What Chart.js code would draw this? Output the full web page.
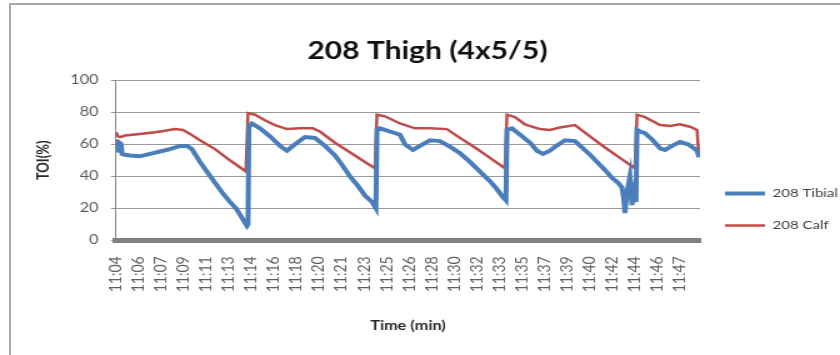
<!DOCTYPE html>
<html>
<head>
<meta charset="utf-8">
<script src="https://cdn.jsdelivr.net/npm/chart.js@4/dist/chart.umd.min.js"></script>
<style>
  html, body { margin: 0; padding: 0; background: #fff; overflow: hidden; }
  #frame { position: absolute; left: 9px; top: 3px; width: 840px; height: 360px;
           border-left: 2px solid #a8a8a8; border-top: 2px solid #a8a8a8; }
  /* the chart is laid out on a narrower canvas and widened horizontally */
  #stage { position: absolute; left: 0; top: 0; width: 672px; height: 355px;
           transform: scaleX(1.25); transform-origin: 0 0; }
</style>
</head>
<body>
<div id="frame"></div>
<div id="stage"><canvas id="chart" width="672" height="355"></canvas></div>
<script>
// Elapsed minutes since 11:04 and tissue oxygenation index (%) per sensor
const tibialMinutes = [
  0.00, 0.08, 0.15, 0.23, 0.31, 0.38, 0.46, 0.69, 1.07, 1.83, 2.60, 3.36, 4.12, 4.89, 5.42, 5.80,
  6.41, 7.02, 7.56, 8.09, 8.70, 9.16, 9.47, 9.77, 10.00, 10.08,
  10.15, 10.38, 10.99, 11.76, 12.52, 13.05, 13.67, 14.43, 15.19, 15.96, 16.72, 17.10, 17.86, 18.48,
  19.01, 19.55, 19.85,
  19.93, 20.16, 20.92, 21.69, 22.07, 22.68, 23.21, 23.98, 24.74, 25.50, 26.27, 27.03, 27.79, 28.56,
  29.09, 29.55, 29.78,
  29.86, 30.24, 30.85, 31.62, 32.15, 32.61, 33.14, 33.53, 34.29, 35.05, 35.59, 36.20, 36.73, 37.34,
  37.88, 38.34, 38.64, 38.79, 38.87, 39.02, 39.25, 39.40, 39.56, 39.71,
  39.79, 40.02, 40.40, 40.94, 41.55, 41.93, 42.46, 43.07, 43.68, 44.06, 44.37, 44.52
];
const tibialTOI = [
  58, 63, 55, 62, 56, 61, 54, 53.5, 53, 52.5, 54, 55.5, 57, 59, 59, 57,
  49, 42, 36, 30, 24, 20, 16, 12, 9, 10,
  71, 73, 70, 65, 59, 56, 60, 64.5, 64, 59, 53, 49, 40, 34,
  28, 24, 20,
  69, 70, 68, 66, 60, 56.5, 59, 62.5, 62, 58.5, 54.5, 49, 43, 37,
  32, 27, 25,
  69, 70, 66, 61, 56, 54, 56, 58.5, 62.5, 62, 58, 53.5, 49, 44,
  39, 36, 33, 25, 17, 30, 40, 22, 30, 24,
  69, 68, 67, 63, 57.5, 56.5, 59, 61.5, 60, 58, 56, 52
];

const calfMinutes = [
  0.00, 0.15, 0.31, 0.69, 1.83, 2.98, 3.74, 4.50, 5.12, 5.65, 6.41, 7.56, 8.70, 9.92,
  10.08, 10.61, 11.37, 12.14, 13.05, 14.05, 15.04, 15.57, 16.72, 17.86, 19.01, 19.78,
  19.93, 20.54, 21.69, 22.83, 23.98, 25.27, 26.27, 27.41, 28.56, 29.70,
  29.86, 30.46, 31.23, 32.38, 33.14, 33.90, 35.05, 36.20, 37.34, 38.49, 39.63,
  39.79, 40.40, 41.55, 42.31, 43.07, 43.83, 44.37, 44.52
];
const calfTOI = [
  67.5, 65, 64.5, 65.5, 66.5, 67.5, 68.5, 69.5, 69, 66.5, 62.5, 57, 50, 43,
  79.5, 78.5, 75, 72, 69.5, 70, 70, 68, 61, 55, 49, 45,
  78.5, 77.5, 73, 70, 70, 69.5, 64, 58, 51.5, 45,
  78.5, 77, 72.5, 69.5, 69, 70.5, 72, 65, 58, 51.5, 45,
  78.5, 77, 72, 71.5, 72.5, 71, 69, 52
];

// Category labels shown along the time axis, evenly spaced
const tickLabels = [
  '11:04', '11:06', '11:07', '11:09', '11:11', '11:13', '11:14', '11:16', '11:18',
  '11:20', '11:21', '11:23', '11:25', '11:26', '11:28', '11:30', '11:32', '11:33',
  '11:35', '11:37', '11:39', '11:40', '11:42', '11:44', '11:46', '11:47'
];
const tickStep = 1.72;     // minutes between labelled ticks
const timeSpan = 44.6;     // minutes covered by the axis

const FONT = 'Lato, "Open Sans", "Liberation Sans", sans-serif';

function points(xs, ys) {
  return xs.map((x, i) => ({ x: x, y: ys[i] }));
}

// moves the legend block down so it sits beside the lower half of the plot
const legendOffset = {
  id: 'legendOffset',
  afterLayout(chart) {
    const lg = chart.legend;
    if (lg) { lg.top += 32; lg.bottom += 32; }
  }
};

new Chart(document.getElementById('chart'), {
  type: 'line',
  data: {
    datasets: [
      {
        label: '208 Tibial',
        data: points(tibialMinutes, tibialTOI),
        borderColor: '#4a7ebb',
        backgroundColor: '#4a7ebb',
        borderWidth: 4,
        pointRadius: 0,
        tension: 0
      },
      {
        label: '208 Calf',
        data: points(calfMinutes, calfTOI),
        borderColor: '#be4b48',
        backgroundColor: '#be4b48',
        borderWidth: 2.5,
        pointRadius: 0,
        tension: 0
      }
    ]
  },
  options: {
    responsive: false,
    animation: false,
    devicePixelRatio: 1,
    layout: { padding: { left: 12, right: 0, top: 0, bottom: 0 } },
    plugins: {
      title: {
        display: true,
        text: '208 Thigh (4x5/5)',
        color: '#111',
        font: { family: FONT, size: 24, weight: 'bold' },
        padding: { top: 36.6, bottom: 14.9 }
      },
      legend: {
        display: true,
        position: 'right',
        maxWidth: 112,
        labels: {
          usePointStyle: true,
          pointStyle: 'line',
          pointStyleWidth: 32,
          padding: 20,
          color: '#404040',
          font: { family: FONT, size: 12 }
        }
      },
      tooltip: { enabled: false }
    },
    scales: {
      x: {
        type: 'linear',
        min: 0,
        max: timeSpan,
        afterBuildTicks: (scale) => {
          scale.ticks = tickLabels.map((_, i) => ({ value: i * tickStep }));
        },
        afterFit: (scale) => { scale.height = 114.7; },
        ticks: {
          autoSkip: false,
          minRotation: 90,
          maxRotation: 90,
          padding: 16,
          color: '#5f5f5f',
          font: { family: FONT, size: 14 },
          callback: (value, index) => tickLabels[index]
        },
        grid: { display: false, drawTicks: false },
        border: { display: true, color: '#808080', width: 5 },
        title: {
          display: true,
          text: 'Time (min)',
          color: '#262626',
          font: { family: FONT, size: 13, weight: 'bold' },
          padding: { top: 0, bottom: 21.2 }
        }
      },
      y: {
        min: 0,
        max: 100,
        afterFit: (scale) => { scale.width = 80.8; },
        ticks: {
          stepSize: 20,
          padding: 10,
          color: '#595959',
          font: { family: FONT, size: 13 }
        },
        grid: { color: '#9a9a9a', lineWidth: 1, drawTicks: true, tickLength: 4 },
        border: { color: '#868686', width: 1 },
        title: {
          display: true,
          text: 'TOI(%)',
          color: '#262626',
          font: { family: FONT, size: 13, weight: 'bold' },
          padding: { top: 14.8, bottom: 0 }
        }
      }
    }
  },
  plugins: [legendOffset]
});
</script>
</body>
</html>
